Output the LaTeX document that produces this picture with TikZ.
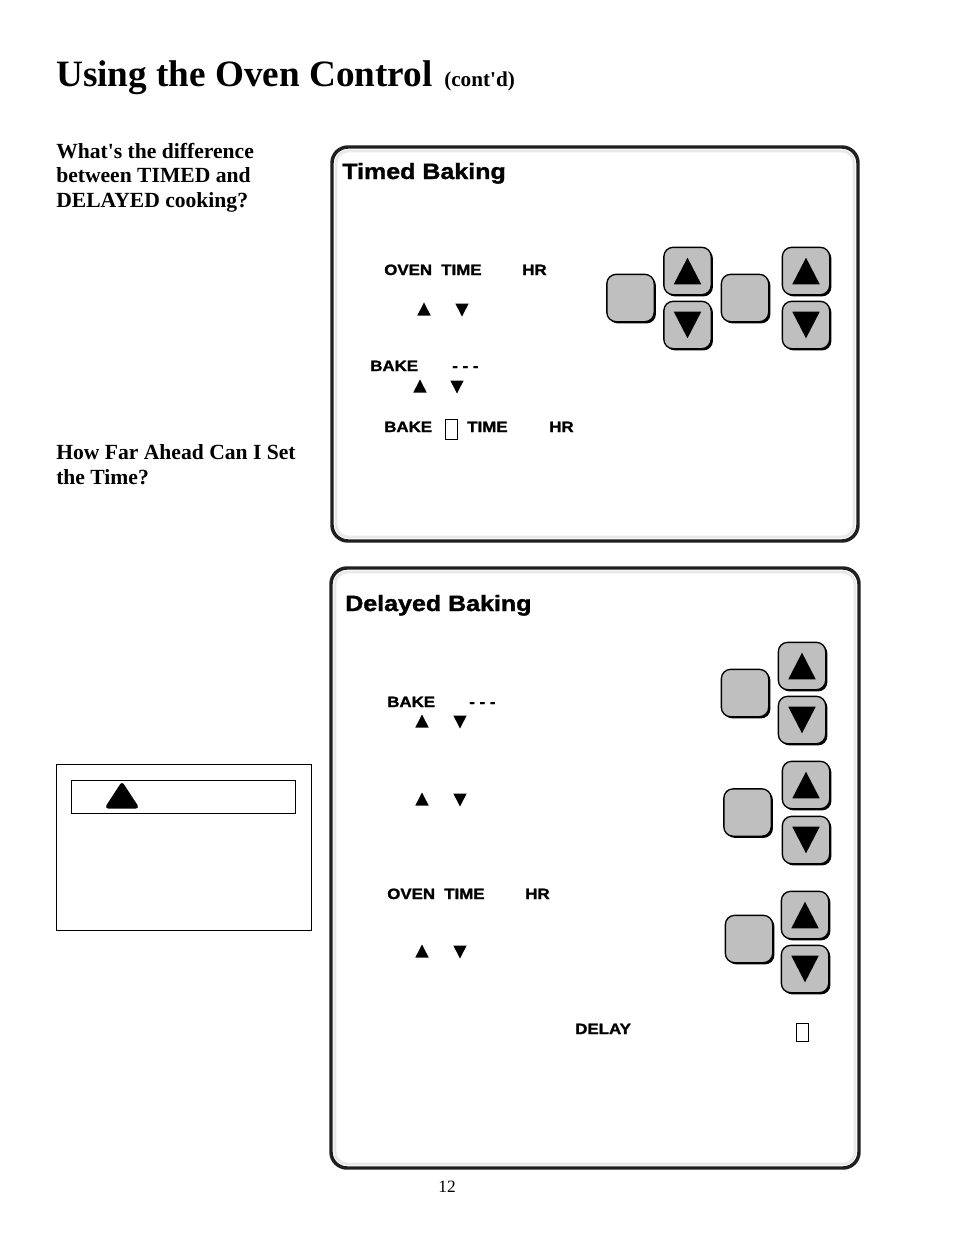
\documentclass[tikz,border=0pt]{standalone}
\usepackage{fontspec}
\usepackage{tikz}
\setmainfont{Liberation Serif}
\newfontfamily\heavyfont[FakeBold=1.5,FakeStretch=1.13]{Liberation Sans}
\definecolor{keygray}{gray}{0.75}
\definecolor{paneldark}{gray}{0.12}
\definecolor{panellight}{gray}{0.91}
\usetikzlibrary{shadows}

\begin{document}
\begin{tikzpicture}
[x=0.75pt, y=-0.75pt,
 key/.style={draw=black, line width=1pt, fill=keygray, rounded corners=7pt, minimum size=35.5pt, inner sep=0pt,
   general shadow={fill=black, shadow xshift=1.3pt, shadow yshift=-1.3pt}},
 serifhead/.style={anchor=base west, inner sep=0pt, align=left, font=\bfseries\fontsize{16.2}{18.2}\selectfont},
 boxhead/.style={anchor=base west, inner sep=0pt, font=\heavyfont\bfseries\fontsize{16.6}{20}\selectfont},
 lbl/.style={anchor=base west, inner sep=0pt, font=\heavyfont\bfseries\fontsize{11.2}{13}\selectfont},
 tinybox/.style={draw=black, line width=0.6pt, fill=white},
 upmark/.pic={\fill (-6.7,6.5) -- (6.7,6.5) -- (0,-6.5) -- cycle;},
 downmark/.pic={\fill (-6.7,-6.5) -- (6.7,-6.5) -- (0,6.5) -- cycle;}]
\useasboundingbox (0,0) rectangle (954,1235);

\node[anchor=base west, inner sep=0pt, font=\bfseries\fontsize{27.9}{32}\selectfont] (title) at (56,86) {Using the Oven Control};
\node[anchor=base west, inner sep=0pt, font=\bfseries\fontsize{15.9}{18}\selectfont] (contd) at (444,86) {(cont\textquotesingle d)};
\node[serifhead] (q1) at (56,207) {What\textquotesingle s the difference\\between TIMED and\\DELAYED cooking?};
\node[serifhead] (q2) at (56,484) {How Far Ahead Can I Set\\the Time?};
\node[anchor=base, inner sep=0pt, font=\fontsize{13}{15}\selectfont] (page) at (447,1192) {12};

% the two panels
\draw[panellight, line width=2.2pt, rounded corners=9pt] (336,151) rectangle (854,537);
\draw[paneldark, line width=2.6pt, rounded corners=12pt] (332,147) rectangle (858,541);
\draw[panellight, line width=2.2pt, rounded corners=9pt] (335,572) rectangle (855,1164);
\draw[paneldark, line width=2.6pt, rounded corners=12pt] (331,568) rectangle (859,1168);

% caution box
\draw[line width=0.6pt] (56,764) rectangle (311,930);
\draw[line width=0.6pt] (71,780) rectangle (295,813);
\fill[line width=3pt, draw=black, line join=round] (122,785) -- (136,806.5) -- (108,806.5) -- cycle;

\node[boxhead] (timed) at (342,179) {Timed Baking};
\node[boxhead] (delayed) at (345,611) {Delayed Baking};

% plain keys
\foreach \n/\a/\b in {pa/630.5/298, pb/745/298, pc/745/693, pd/747.5/812.5, pe/749/939}
  \node[key] (\n) at (\a,\b) {};
% arrow keys
\foreach \n/\a/\b in {ua/687.5/271, ub/806/271, uc/802/666, ud/806/785, ue/805/915}{
  \node[key] (\n) at (\a,\b) {};
  \pic[scale=2.05] at (\n) {upmark};
}
\foreach \n/\a/\b in {da/687.5/325, db/806/325, dc/802/720, dd/806/840, de/805/969}{
  \node[key] (\n) at (\a,\b) {};
  \pic[scale=2.05] at (\n) {downmark};
}

% timed labels
\node[lbl] (ta) at (384,275) {OVEN};
\node[lbl] (tb) at (441,275) {TIME};
\node[lbl] (tc) at (522,275) {HR};
\node[lbl] (td) at (370,371) {BAKE};
\node[lbl] (te) at (452,371) {- - -};
\node[lbl] (tf) at (384,432) {BAKE};
\node[lbl] (tg) at (467,432) {TIME};
\node[lbl] (th) at (549,432) {HR};
\node[tinybox, minimum width=9.5pt, minimum height=15pt, inner sep=0pt] (ti) at (451.5,429) {};

% delayed labels
\node[lbl] (la) at (387,707) {BAKE};
\node[lbl] (lb) at (469,707) {- - -};
\node[lbl] (lc) at (387,899) {OVEN};
\node[lbl] (ld) at (444,899) {TIME};
\node[lbl] (le) at (525,899) {HR};
\node[lbl] (lf) at (575,1034) {DELAY};
\node[tinybox, minimum width=8.5pt, minimum height=13.5pt, inner sep=0pt] (lg) at (802.5,1032) {};

% small marks in the running text
\foreach \a/\b in {424/309, 420/386, 422/721, 422/799, 422/951}
  \pic at (\a,\b) {upmark};
\foreach \a/\b in {462/310, 457/387, 460/722, 460/800, 460/952}
  \pic at (\a,\b) {downmark};

\end{tikzpicture}
\end{document}
